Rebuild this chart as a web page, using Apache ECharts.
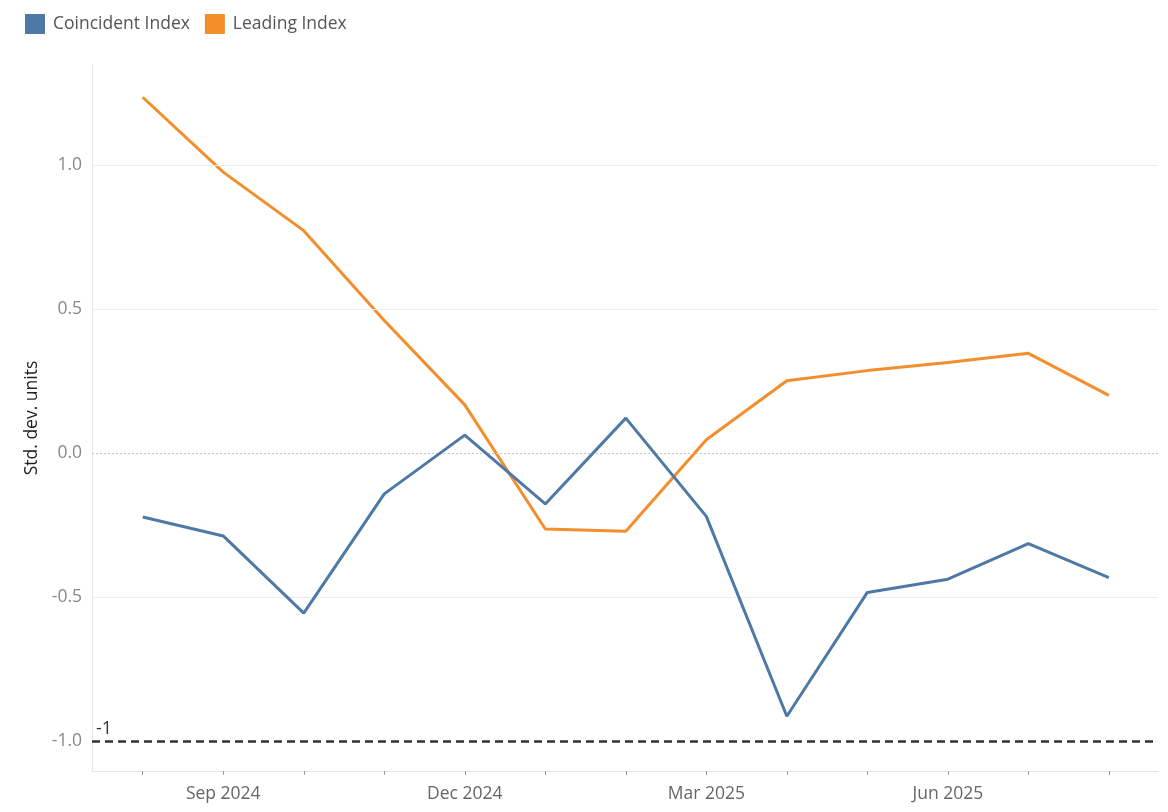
<!DOCTYPE html>
<html>
<head>
<meta charset="utf-8">
<script src="https://cdn.jsdelivr.net/npm/echarts@6/dist/echarts.min.js"></script>
<style>
html,body{margin:0;padding:0;background:#fff;}
#chart{width:1168px;height:812px;}
</style>
</head>
<body>
<div id="chart"></div>
<script>
const months = ['Aug 2024','Sep 2024','Oct 2024','Nov 2024','Dec 2024','Jan 2025','Feb 2025','Mar 2025','Apr 2025','May 2025','Jun 2025','Jul 2025','Aug 2025'];
const coincident = [-0.222,-0.288,-0.556,-0.142,0.062,-0.177,0.121,-0.220,-0.914,-0.484,-0.438,-0.315,-0.433];
const leading = [1.235,0.975,0.772,0.460,0.167,-0.264,-0.272,0.046,0.251,0.286,0.314,0.346,0.200];
const xLabelIdx = [1,4,7,10];
const yTicks = [-1,-0.5,0,0.5,1];
const gridValues = [1,0.5,-0.5];
const refValue = -1;

const FONT = 'Open Sans';
const chart = echarts.init(document.getElementById('chart'));
const toPairs = arr => arr.map((v,i)=>[i,v]);

chart.setOption({
  animation:false,
  textStyle:{fontFamily:FONT},
  legend:{
    left:25, top:14, padding:0, itemWidth:20, itemHeight:20, itemGap:15, icon:'rect',
    textStyle:{fontFamily:FONT, fontSize:17.5, color:'#555', padding:[6,0,0,3]},
    data:['Coincident Index','Leading Index']
  },
  grid:{left:92, right:10, top:65, bottom:41, containLabel:false},
  xAxis:{
    type:'value', min:-0.63, max:12.61,
    axisLine:{show:true, onZero:false, lineStyle:{color:'#e6e6e6', width:1}},
    axisTick:{show:true, customValues:months.map((m,i)=>i), length:4, lineStyle:{color:'#999'}},
    axisLabel:{customValues:xLabelIdx, formatter:v=>months[Math.round(v)], fontSize:17.5, color:'#666', margin:14, fontFamily:FONT},
    splitLine:{show:false}
  },
  yAxis:{
    type:'value', min:-1.104, max:1.347,
    name:'Std. dev. units', nameLocation:'middle', nameGap:42,
    nameTextStyle:{fontSize:17.5, color:'#222', fontFamily:FONT},
    axisLine:{show:true, onZero:false, lineStyle:{color:'#e6e6e6', width:1}},
    axisTick:{show:false, customValues:yTicks},
    axisLabel:{customValues:yTicks, formatter:v=>v.toFixed(1), fontSize:17.5, color:'#888', margin:10, fontFamily:FONT},
    splitLine:{show:false}
  },
  series:[
    {
      name:'Coincident Index', type:'line', data:toPairs(coincident),
      showSymbol:false, symbol:'none', z:5,
      lineStyle:{color:'#4e79a7', width:3}, itemStyle:{color:'#4e79a7'},
      markLine:{
        silent:true, symbol:'none', animation:false,
        data:[
          ...gridValues.map(v=>({yAxis:v, lineStyle:{color:'#ececec', type:'solid', width:1}, label:{show:false}})),
          {yAxis:0, lineStyle:{color:'#c4c4c4', type:[2,2], width:1}, label:{show:false}},
          {yAxis:refValue, lineStyle:{color:'#333', type:[8,5], width:2.5},
           label:{show:true, position:'insideStartTop', formatter:'-1', color:'#333', fontSize:18, fontFamily:FONT, distance:[4,3]}}
        ]
      }
    },
    {
      name:'Leading Index', type:'line', data:toPairs(leading),
      showSymbol:false, symbol:'none', z:4,
      lineStyle:{color:'#f28e2b', width:3}, itemStyle:{color:'#f28e2b'}
    }
  ]
});
</script>
</body>
</html>
